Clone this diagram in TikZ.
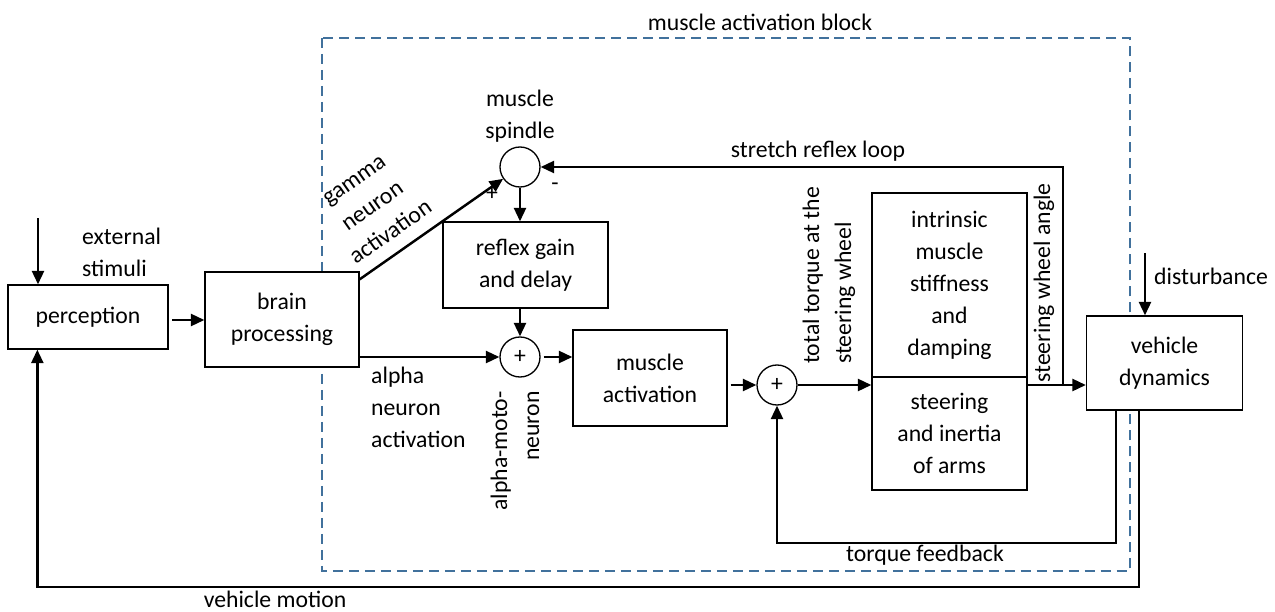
\documentclass[tikz,border=0pt]{standalone}
\usepackage{fontspec}
\setmainfont{Carlito}
\usetikzlibrary{arrows.meta}
\definecolor{blockblue}{RGB}{65,113,156}
\tikzset{
  blk/.style={draw, fill=white, line width=0.75pt, align=center, inner sep=0pt},
  sumpt/.style={draw, fill=white, circle, line width=0.75pt, minimum size=0.8cm, inner sep=0pt},
  sig/.style={line width=1.4pt, -{Triangle[length=0.27cm,width=0.24cm]}},
  wire/.style={line width=1.4pt},
}
\begin{document}
\begin{tikzpicture}[x=0.02cm, y=-0.02cm, font=\fontsize{13.5}{18.2}\selectfont]
        \useasboundingbox (0,0) rectangle (1275,612);
        % muscle activation block
        \draw[blockblue, line width=1.3pt, dash pattern=on 0.2cm off 0.12cm] (322,38) rectangle (1130,571);
        \node (blocklbl) at (760,22) {muscle activation block};

        % blocks
        \node[blk, minimum width=3.2cm, minimum height=1.28cm] (perc) at (88,317) {perception};
        \node[blk, minimum width=3.08cm, minimum height=1.9cm] (brain) at (282,319.5) {brain\\processing};
        \node[blk, minimum width=3.3cm, minimum height=1.72cm] (reflex) at (525.5,265) {reflex gain\\and delay};
        \node[blk, minimum width=3.08cm, minimum height=1.92cm] (act) at (650,378) {muscle\\activation};
        \node[blk, minimum width=3.1cm, minimum height=3.68cm] (intr) at (949.5,285) {intrinsic\\muscle\\stiffness\\and\\damping};
        \node[blk, minimum width=3.1cm, minimum height=2.26cm] (steer) at (949.5,433.5) {steering\\and inertia\\of arms};
        \node[blk, minimum width=3.12cm, minimum height=1.88cm] (veh) at (1164.5,363) {vehicle\\dynamics};

        % summing points
        \node[sumpt] (spin) at (520,167) {};
        \node[sumpt] (asum) at (520,357) {+};
        \node[sumpt] (tsum) at (777,385) {+};
        \node (plus) at (492,194) {+};
        \node (minus) at (555,187) {-};

        % inputs
        \coordinate (stimtop) at (38,218);
        \coordinate (disttop) at (1145,253);
        \draw[sig] (stimtop) -- (stimtop |- perc.north);
        \draw[sig] (disttop) -- (disttop |- veh.north);
        \node[align=left, anchor=west] (stim) at (76,252) {external\\stimuli};
        \node[anchor=west] (dist) at (1148,276) {disturbance};

        % forward path
        \draw[sig] (172,320) -- (brain.west |- 0,320);
        \draw[sig] ([yshift=-0.16cm]brain.north east) -- (spin.215);
        \draw[sig] (brain.east |- asum) -- (asum.west);
        \draw[sig] (spin.south) -- (spin |- reflex.north);
        \draw[sig] (asum |- reflex.south) -- (asum.north);
        \draw[sig] ([xshift=0.06cm]asum.east) -- (act.west |- asum);
        \draw[sig] ([xshift=0.06cm]act.east |- tsum) -- (tsum.west);
        \draw[sig] (tsum.east) -- (tsum -| steer.west);
        \draw[sig] (tsum -| steer.east) -- (tsum -| veh.west);

        % stretch reflex loop
        \coordinate (split) at (1063,385);
        \draw[sig] (split) -- (split |- spin) -- (spin.east);
        \node (stretch) at (818,151) {stretch reflex loop};

        % feedbacks
        \coordinate (tfb) at (1116,543);
        \coordinate (vfb) at (1139,587);
        \coordinate (percin) at ([xshift=0.6cm]perc.south west);
        \draw[sig] (tfb |- veh.south) -- (tfb) -- (tfb -| tsum) -- (tsum.south);
        \draw[sig] (vfb |- veh.south) -- (vfb) -- (vfb -| percin) -- (percin);
        \node (tfblbl) at (925,555) {torque feedback};
        \node (vmlbl) at (275,599) {vehicle motion};

        % signal labels
        \node (spinlbl) at (520,116) [align=center] {muscle\\spindle};
        \node[rotate=35, align=center] (gamma) at (373,207) {gamma\\neuron\\activation};
        \node[align=left, anchor=west] (alpha) at (365,407) {alpha\\neuron\\activation};
        \node[rotate=90, anchor=east, align=right] (amn) at (515,385) {alpha-moto-\\neuron};
        \node[rotate=90, anchor=west, align=left] (ttq) at (829,370) {total torque at the\\steering wheel};
        \node[rotate=90] (swa) at (1044,283) {steering wheel angle};
\end{tikzpicture}
\end{document}
